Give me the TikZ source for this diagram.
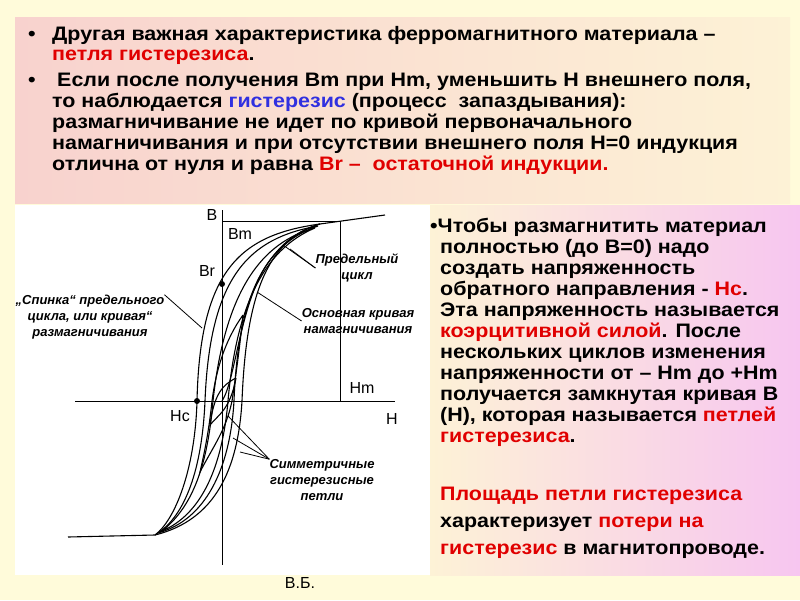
\documentclass[tikz,border=0pt]{standalone}
\usepackage{fontspec}
\setmainfont{Liberation Sans}
\newfontfamily\widefont[FakeStretch=1.1]{Liberation Sans}
\usetikzlibrary{positioning}
\definecolor{bgyellow}{HTML}{FFFBDA}
\definecolor{boxpink}{HTML}{F8D2CE}
\definecolor{boxcream}{HTML}{FDF2D6}
\definecolor{lilac}{HTML}{F7C6F0}
\definecolor{redtxt}{HTML}{E00000}
\definecolor{bluetxt}{HTML}{3030E0}
\tikzset{
  topline/.style={anchor=base west,inner sep=0pt,font=\widefont\bfseries\fontsize{19.5}{20}\selectfont},
  sideline/.style={anchor=base west,inner sep=0pt,font=\widefont\bfseries\fontsize{19.5}{20}\selectfont},
  axislabel/.style={inner sep=0pt,font=\fontsize{16}{18}\selectfont},
  handlabel/.style={inner sep=0pt,align=center,font=\itshape\bfseries\fontsize{13}{16}\selectfont},
  curve/.style={line width=1.1pt},
  leader/.style={line width=.8pt}
}
\newcommand{\rd}[1]{\textcolor{redtxt}{#1}}
\begin{document}
\begin{tikzpicture}[x=1pt,y=-1pt]
  \useasboundingbox (0,0) rectangle (800,600);
  \fill[bgyellow] (0,0) rectangle (800,600);
  % top text box
  \shade[left color=boxpink,right color=boxcream] (15,17) rectangle (790,203);
  \node[topline] (b1) at (28,40) {•};
  \node[topline] (t1) at (52,40) {Другая важная характеристика ферромагнитного материала –};
  \node[topline] (t2) at (52,60) {\rd{петля гистерезиса}.};
  \node[topline] (b2) at (28,86) {•};
  \node[topline] (t3) at (57,86) {Если после получения Bm при Hm, уменьшить H внешнего поля,};
  \node[topline] (t4) at (52,107) {то наблюдается \textcolor{bluetxt}{гистерезис} (процесс\ \ запаздывания):};
  \node[topline] (t5) at (52,128) {размагничивание не идет по кривой первоначального};
  \node[topline] (t6) at (52,149) {намагничивания и при отсутствии внешнего поля H=0 индукция};
  \node[topline] (t7) at (52,170) {отлична от нуля и равна \rd{Br –\ \ остаточной индукции.}};
  % picture area
  \fill[white] (15,205) rectangle (430,575);
  % right text box
  \shade[left color=boxcream,right color=lilac] (430,205) rectangle (800,575);
  \node[sideline] (s1) at (430,232) {•Чтобы размагнитить материал};
  \node[sideline] (s2) at (440,253) {полностью (до B=0) надо};
  \node[sideline] (s3) at (440,274) {создать напряженность};
  \node[sideline] (s4) at (440,295) {обратного направления - \rd{Hc}.};
  \node[sideline] (s5) at (440,316) {Эта напряженность называется};
  \node[sideline] (s6) at (440,337) {\rd{коэрцитивной силой}. После};
  \node[sideline] (s7) at (440,358) {нескольких циклов изменения};
  \node[sideline] (s8) at (440,379) {напряженности от – Hm до +Hm};
  \node[sideline] (s9) at (440,400) {получается замкнутая кривая B};
  \node[sideline] (s10) at (440,421) {(H), которая называется \rd{петлей}};
  \node[sideline] (s11) at (440,442) {\rd{гистерезиса}.};
  \node[sideline] (s12) at (440,500) {\rd{Площадь петли гистерезиса}};
  \node[sideline] (s13) at (440,527) {характеризует \rd{потери на}};
  \node[sideline] (s14) at (440,554) {\rd{гистерезис} в магнитопроводе.};
  % axes
  \draw[line width=.8pt] (222,210) -- (222,565);
  \draw[line width=.9pt] (75,401) -- (395,401);
  \draw[line width=.5pt] (222,221) -- (340,221) -- (340,401);
  % limit loop and inner loops
  \draw[curve] (385,215) -- (320,224) .. controls (240,235) and (200,270) .. (197,401)
    .. controls (195,470) and (175,520) .. (155,535) -- (68,537);
  \draw[curve] (155,535) .. controls (215,520) and (238,470) .. (242,401)
    .. controls (246,300) and (265,240) .. (320,224);
  \draw[curve] (318,226) .. controls (250,238) and (210,275) .. (205,401)
    .. controls (202,470) and (185,515) .. (158,533)
    .. controls (205,520) and (230,470) .. (234,401)
    .. controls (238,300) and (262,245) .. (318,226);
  \draw[curve] (315,228) .. controls (262,242) and (225,290) .. (213,401)
    .. controls (208,460) and (195,505) .. (162,531)
    .. controls (200,515) and (222,470) .. (228,401)
    .. controls (236,310) and (262,250) .. (315,228);
  \draw[curve] (243,315) .. controls (225,340) and (216,370) .. (212,401)
    .. controls (209,430) and (205,450) .. (200,472)
    .. controls (214,445) and (226,430) .. (232,401)
    .. controls (236,375) and (240,345) .. (243,315);
  \draw[curve] (236,378) .. controls (222,385) and (214,395) .. (210,425)
    .. controls (218,415) and (230,410) .. (236,378);
  % main magnetization curve
  \draw[curve] (222,401) .. controls (236,380) and (240,300) .. (270,260)
    .. controls (285,240) and (300,230) .. (320,224);
  % points
  \fill (222,284) circle (3pt);
  \fill (197,401) circle (3pt);
  % axis labels
  \node[axislabel] (lb) at (212,215) {B};
  \node[axislabel] (lbm) at (240,234) {Bm};
  \node[axislabel] (lbr) at (207,271) {Br};
  \node[axislabel] (lhc) at (180,416) {Hc};
  \node[axislabel] (lh) at (392,419) {H};
  \node[axislabel] (lhm) at (362,388) {Hm};
  % hand-written labels
  \node[handlabel] (lcycle) at (357,268) {Предельный\\цикл};
  \node[handlabel] (lmain) at (358,321) {Основная кривая\\намагничивания};
  \node[handlabel] (lback) at (90,317) {„Спинка“ предельного\\цикла, или кривая“\\размагничивания};
  \node[handlabel] (lsym) at (322,480) {Симметричные\\гистерезисные\\петли};
  \coordinate (ca) at (283,245);
  \coordinate (cb) at (290,249);
  \coordinate (cm) at (257,292);
  \coordinate (cs) at (202,328);
  \coordinate (sa) at (228,416);
  \coordinate (sb) at (233,438);
  \coordinate (sc) at (240,452);
  \draw[leader] (ca) -- (lcycle.west);
  \draw[leader] (cb) -- (lcycle.west);
  \draw[leader] (cm) -- (lmain.west);
  \draw[leader] (cs) -- (lback.north east);
  \draw[leader] (sa) -- (lsym.north west);
  \draw[leader] (sb) -- (lsym.north west);
  \draw[leader] (sc) -- (lsym.north west);
  \node[axislabel] (vb) at (300,583) {В.Б.};
\end{tikzpicture}
\end{document}
